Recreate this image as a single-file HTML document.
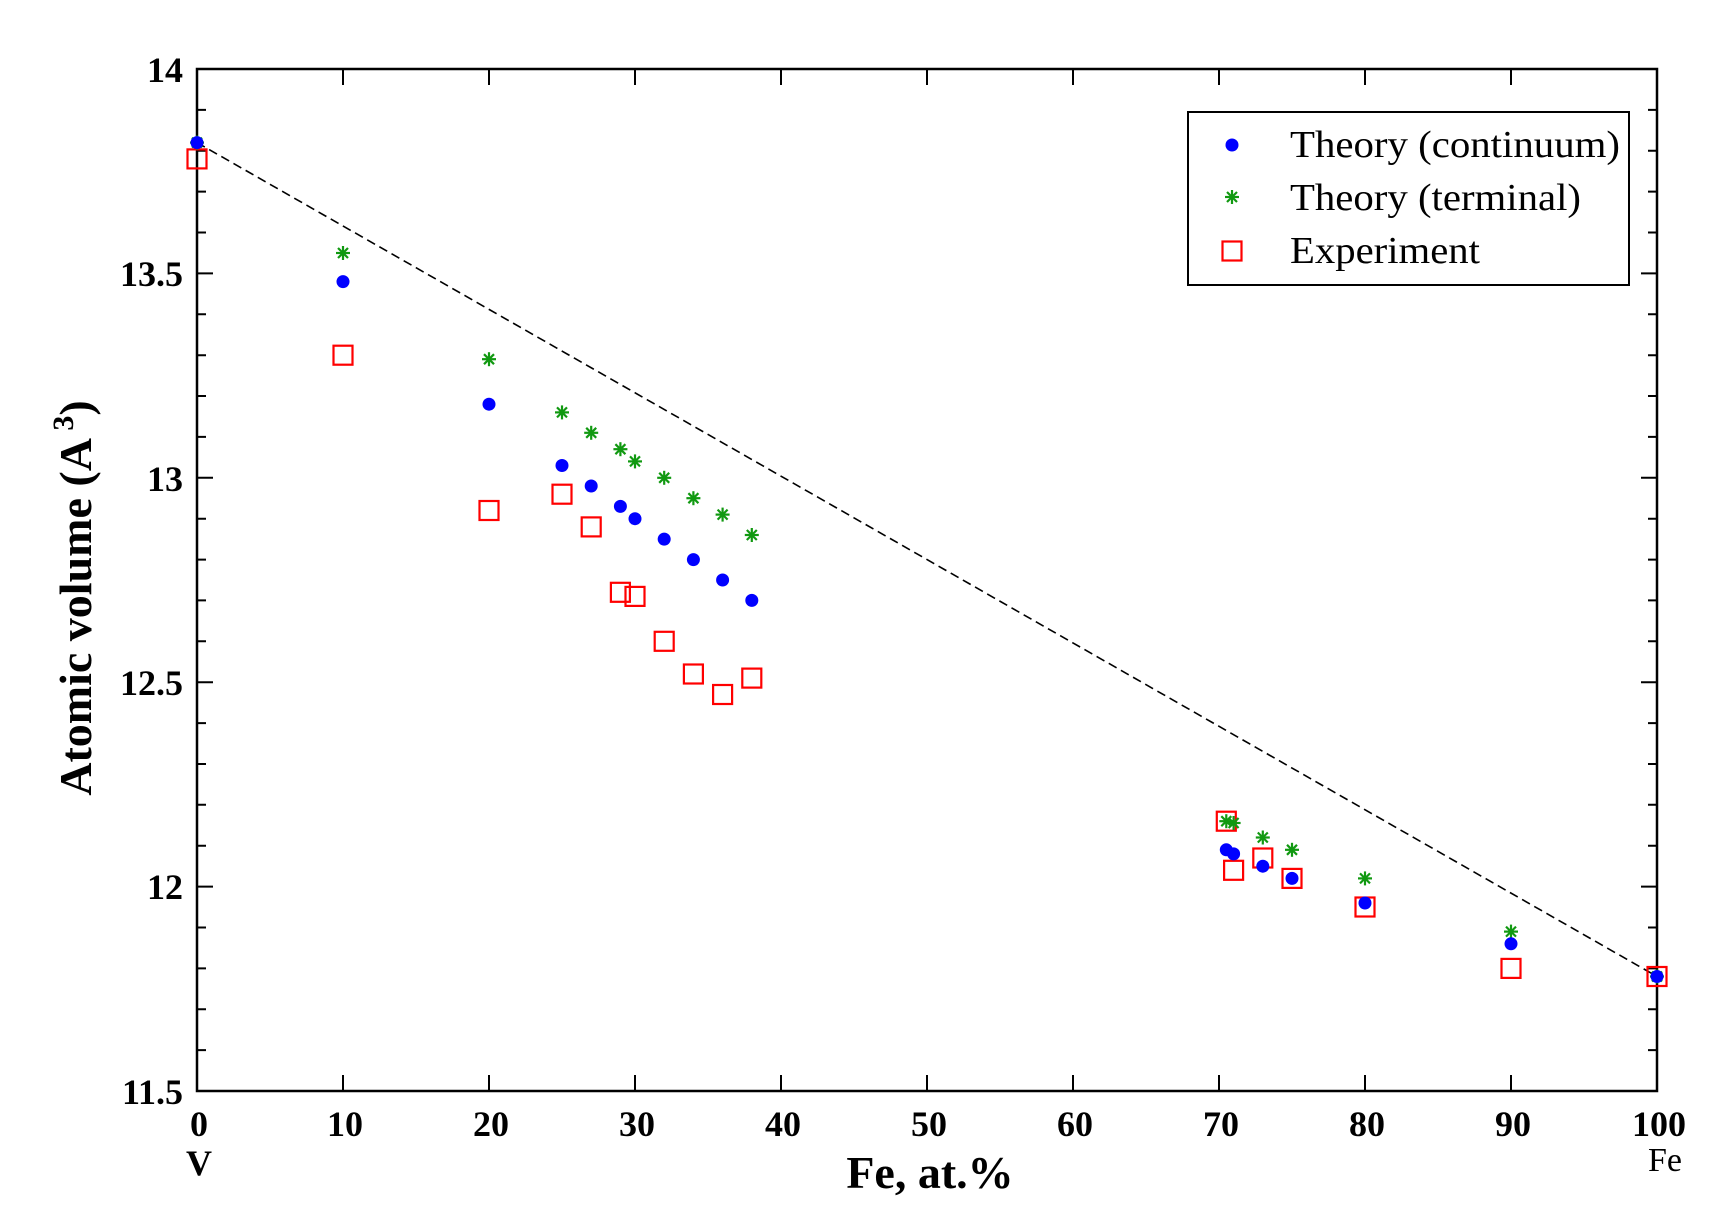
<!DOCTYPE html>
<html><head><meta charset="utf-8"><style>html,body{margin:0;padding:0;background:#fff}</style></head>
<body>
<svg width="1718" height="1210" viewBox="0 0 1718 1210" xmlns="http://www.w3.org/2000/svg">
<defs>
<g id="b"><circle r="6.5" fill="#0000ff"/></g>
<g id="g" stroke="#119911" stroke-width="2.2"><line x1="-7" y1="0" x2="7" y2="0"/><line x1="0" y1="-7" x2="0" y2="7"/><line x1="-5" y1="-5" x2="5" y2="5"/><line x1="-5" y1="5" x2="5" y2="-5"/></g>
<g id="r"><rect x="-9.5" y="-9.5" width="19" height="19" fill="none" stroke="#ff0000" stroke-width="2.2"/></g>
</defs>
<g stroke="#000" stroke-width="2.5" fill="none">
<rect x="197" y="69" width="1460" height="1022"/>
</g>
<g stroke="#000" stroke-width="2">
<path d="M343 1091v-16M489 1091v-16M635 1091v-16M781 1091v-16M927 1091v-16M1073 1091v-16M1219 1091v-16M1365 1091v-16M1511 1091v-16M343 69v16M489 69v16M635 69v16M781 69v16M927 69v16M1073 69v16M1219 69v16M1365 69v16M1511 69v16"/>
<path d="M197 273.4h16M197 477.8h16M197 682.2h16M197 886.6h16M1657 273.4h-16M1657 477.8h-16M1657 682.2h-16M1657 886.6h-16"/>
<path d="M197 109.9h9M197 150.8h9M197 191.6h9M197 232.5h9M197 314.3h9M197 355.2h9M197 396h9M197 436.9h9M197 518.7h9M197 559.6h9M197 600.4h9M197 641.3h9M197 723.1h9M197 764h9M197 804.8h9M197 845.7h9M197 927.5h9M197 968.4h9M197 1009.2h9M197 1050.1h9
M1657 109.9h-9M1657 150.8h-9M1657 191.6h-9M1657 232.5h-9M1657 314.3h-9M1657 355.2h-9M1657 396h-9M1657 436.9h-9M1657 518.7h-9M1657 559.6h-9M1657 600.4h-9M1657 641.3h-9M1657 723.1h-9M1657 764h-9M1657 804.8h-9M1657 845.7h-9M1657 927.5h-9M1657 968.4h-9M1657 1009.2h-9M1657 1050.1h-9"/>
</g>
<line x1="197" y1="142.6" x2="1657" y2="976.5" stroke="#000" stroke-width="1.6" stroke-dasharray="9,5"/>
<g font-family="Liberation Serif, serif" font-weight="bold" font-size="36" fill="#000">
<g text-anchor="end">
<text x="183" y="82">14</text>
<text x="183" y="286">13.5</text>
<text x="183" y="491">13</text>
<text x="183" y="695">12.5</text>
<text x="183" y="899">12</text>
<text x="183" y="1104">11.5</text>
</g>
<g text-anchor="middle">
<text x="199" y="1136">0</text>
<text x="345" y="1136">10</text>
<text x="491" y="1136">20</text>
<text x="637" y="1136">30</text>
<text x="783" y="1136">40</text>
<text x="929" y="1136">50</text>
<text x="1075" y="1136">60</text>
<text x="1221" y="1136">70</text>
<text x="1367" y="1136">80</text>
<text x="1513" y="1136">90</text>
<text x="1659" y="1136">100</text>
<text x="199" y="1175">V</text>
<text x="930" y="1188" font-size="46">Fe, at.%</text>
</g>
<text x="0" y="0" font-size="46" text-anchor="middle" transform="translate(91,598) rotate(-90)">Atomic volume (A<tspan font-size="30" dy="-18"> 3</tspan><tspan dy="18">)</tspan></text>
</g>
<text x="1665" y="1171" font-family="Liberation Serif, serif" font-size="34" text-anchor="middle">Fe</text>
<rect x="1188" y="112" width="441" height="173" fill="#fff" stroke="#000" stroke-width="2"/>
<use href="#b" x="1232" y="145"/>
<use href="#g" x="1232" y="197"/>
<use href="#r" x="1232" y="251"/>
<g font-family="Liberation Serif, serif" font-size="38" fill="#000">
<text x="1290" y="157" textLength="330" lengthAdjust="spacingAndGlyphs">Theory (continuum)</text>
<text x="1290" y="210" textLength="291" lengthAdjust="spacingAndGlyphs">Theory (terminal)</text>
<text x="1290" y="263" textLength="190" lengthAdjust="spacingAndGlyphs">Experiment</text>
</g>
<g>
<use href="#r" x="197" y="158.9"/><use href="#r" x="343" y="355.2"/><use href="#r" x="489" y="510.5"/><use href="#r" x="562" y="494.2"/><use href="#r" x="591.2" y="526.9"/><use href="#r" x="620.4" y="592.3"/><use href="#r" x="635" y="596.4"/><use href="#r" x="664.2" y="641.3"/><use href="#r" x="693.4" y="674"/><use href="#r" x="722.6" y="694.5"/><use href="#r" x="751.8" y="678.1"/><use href="#r" x="1226.3" y="821.2"/><use href="#r" x="1233.6" y="870.3"/><use href="#r" x="1262.8" y="858"/><use href="#r" x="1292" y="878.4"/><use href="#r" x="1365" y="907"/><use href="#r" x="1511" y="968.4"/><use href="#r" x="1657" y="976.5"/>
</g>
<g>
<use href="#g" x="197" y="142.6"/><use href="#g" x="343" y="253"/><use href="#g" x="489" y="359.2"/><use href="#g" x="562" y="412.4"/><use href="#g" x="591.2" y="432.8"/><use href="#g" x="620.4" y="449.2"/><use href="#g" x="635" y="461.4"/><use href="#g" x="664.2" y="477.8"/><use href="#g" x="693.4" y="498.2"/><use href="#g" x="722.6" y="514.6"/><use href="#g" x="751.8" y="535"/><use href="#g" x="1226.3" y="821.2"/><use href="#g" x="1233.6" y="823"/><use href="#g" x="1262.8" y="837.5"/><use href="#g" x="1292" y="849.8"/><use href="#g" x="1365" y="878.4"/><use href="#g" x="1511" y="931.6"/><use href="#g" x="1657" y="976.5"/>
</g>
<g>
<use href="#b" x="197" y="142.6"/><use href="#b" x="343" y="281.6"/><use href="#b" x="489" y="404.2"/><use href="#b" x="562" y="465.5"/><use href="#b" x="591.2" y="486"/><use href="#b" x="620.4" y="506.4"/><use href="#b" x="635" y="518.7"/><use href="#b" x="664.2" y="539.1"/><use href="#b" x="693.4" y="559.6"/><use href="#b" x="722.6" y="580"/><use href="#b" x="751.8" y="600.4"/><use href="#b" x="1226.3" y="849.8"/><use href="#b" x="1233.6" y="853.9"/><use href="#b" x="1262.8" y="866.2"/><use href="#b" x="1292" y="878.4"/><use href="#b" x="1365" y="903"/><use href="#b" x="1511" y="943.8"/><use href="#b" x="1657" y="976.5"/>
</g>
</svg>
</body></html>
